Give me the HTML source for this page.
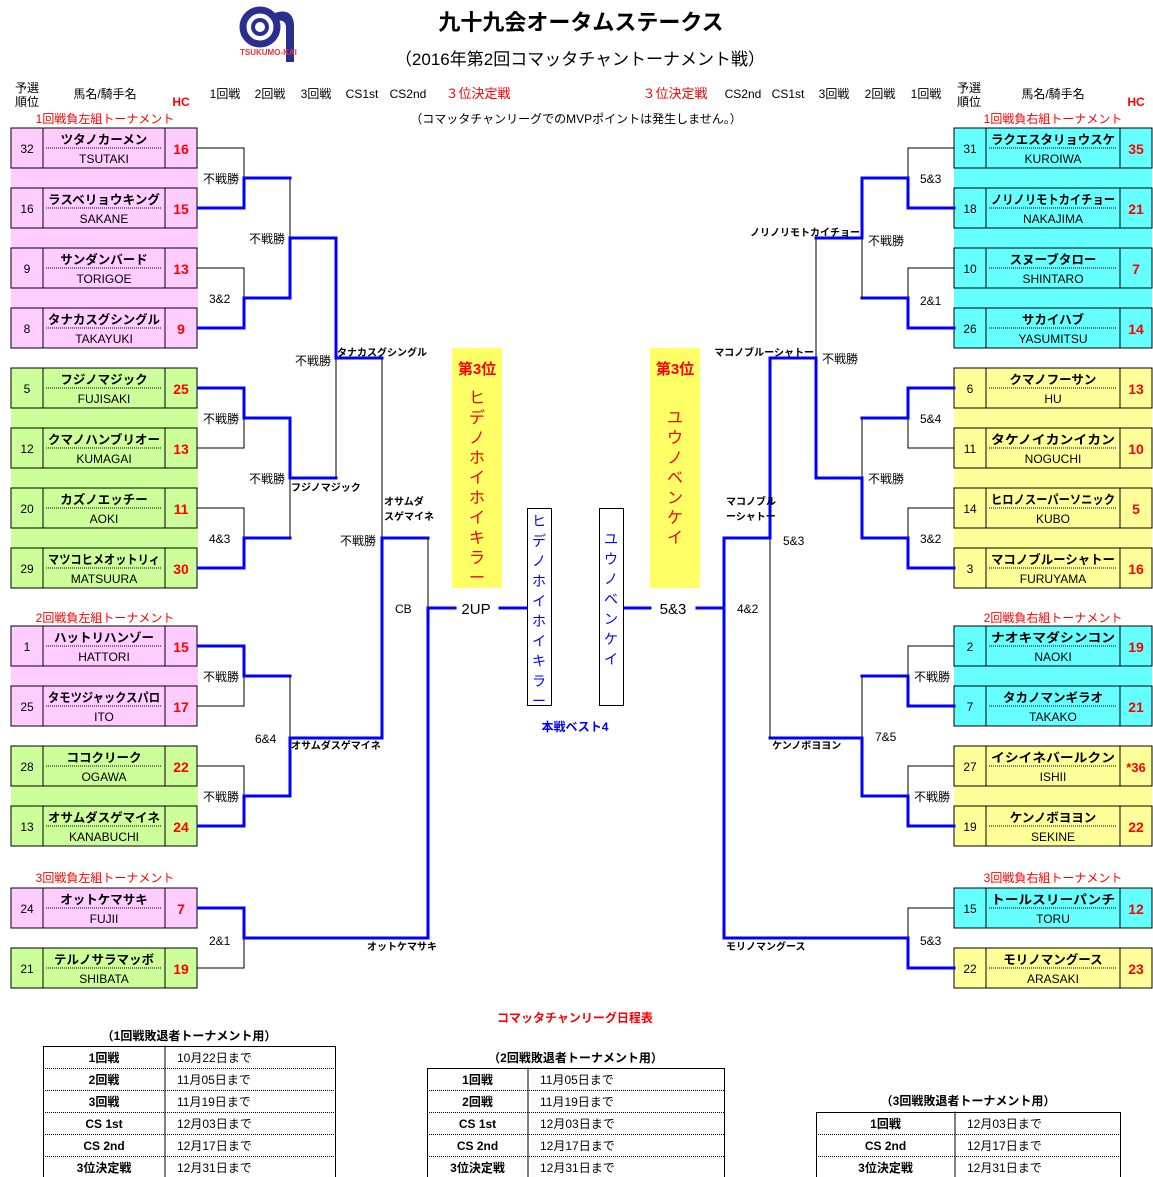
<!DOCTYPE html>
<html><head><meta charset="utf-8">
<style>
html,body{margin:0;padding:0;background:#fff;}
svg{display:block;font-family:"Liberation Sans","Noto Sans CJK JP",sans-serif;}
</style></head>
<body>
<svg id="s" width="1153" height="1177" xmlns="http://www.w3.org/2000/svg">
<rect width="1153" height="1177" fill="#fff"/>
<g>
<circle cx="260" cy="27" r="17" fill="none" stroke="#2a2f8f" stroke-width="7"/>
<circle cx="260" cy="27" r="7" fill="none" stroke="#2a2f8f" stroke-width="4"/>
<path d="M272 14 Q292 6 294 24 L294 62 L286 62 L286 26 Q284 18 276 22 Z" fill="#2a2f8f"/>
<text x="240" y="55" font-size="8" fill="#e33" font-weight="bold">TSUKUMO-KAI</text>
</g>
<text x="581" y="30" font-size="22" font-weight="bold" text-anchor="middle">九十九会オータムステークス</text>
<text x="580" y="65" font-size="17" text-anchor="middle">（2016年第2回コマッタチャントーナメント戦）</text>
<g id="g"></g>
</svg>
<script>
var g=document.getElementById('g');var NS='http://www.w3.org/2000/svg';
function el(t,a,txt){var e=document.createElementNS(NS,t);for(var k in a)e.setAttribute(k,a[k]);if(txt!==undefined)e.textContent=txt;g.appendChild(e);return e;}
function T(x,y,s,sz,o){o=o||{};var a={x:x,y:y,'font-size':sz||12,fill:o.c||'#000'};if(o.b)a['font-weight']='bold';if(o.a)a['text-anchor']=o.a;if(o.tl){a.textLength=o.tl;a.lengthAdjust='spacingAndGlyphs';}return el('text',a,s);}
function R(x,y,w,h,f,st){el('rect',{x:x,y:y,width:w,height:h,fill:f||'none',stroke:st||'none','stroke-width':1});}
function Ln(x1,y1,x2,y2,b){el('line',{x1:x1,y1:y1,x2:x2,y2:y2,stroke:b?'#0000ff':'#000','stroke-width':b?3:1,'stroke-linecap':'square'});}
var P='#ffccff',G='#ccff99',C='#66ffff',Y='#ffff99';
T(27,92,'予選',12,{a:'middle'});T(27,106,'順位',12,{a:'middle'});
T(105,98,'馬名/騎手名',12,{a:'middle'});T(181,106,'HC',12,{a:'middle',b:1,c:'#f00'});
[['1回戦',225],['2回戦',270],['3回戦',316],['CS1st',362],['CS2nd',408]].forEach(function(v){T(v[1],98,v[0],12,{a:'middle'});});
T(478,98,'３位決定戦',13,{a:'middle',c:'#f00'});T(675,98,'３位決定戦',13,{a:'middle',c:'#f00'});
[['CS2nd',743],['CS1st',788],['3回戦',834],['2回戦',880],['1回戦',926]].forEach(function(v){T(v[1],98,v[0],12,{a:'middle'});});
T(969,92,'予選',12,{a:'middle'});T(969,106,'順位',12,{a:'middle'});
T(1053,98,'馬名/騎手名',12,{a:'middle'});T(1136,106,'HC',12,{a:'middle',b:1,c:'#f00'});
T(576,123,'（コマッタチャンリーグでのMVPポイントは発生しません。）',12,{a:'middle'});
T(105,123,'1回戦負左組トーナメント',12,{a:'middle',c:'#f00'});
T(1053,123,'1回戦負右組トーナメント',12,{a:'middle',c:'#f00'});
T(105,622,'2回戦負左組トーナメント',12,{a:'middle',c:'#f00'});
T(1053,622,'2回戦負右組トーナメント',12,{a:'middle',c:'#f00'});
T(105,882,'3回戦負左組トーナメント',12,{a:'middle',c:'#f00'});
T(1053,882,'3回戦負右組トーナメント',12,{a:'middle',c:'#f00'});
function box(x0,wn,y,rk,nm,jk,hc,col){
 var w=32+wn+32;R(x0,y,w,40,col,'#000');
 Ln(x0+32,y,x0+32,y+40);Ln(x0+32+wn,y,x0+32+wn,y+40);
 el('line',{x1:x0+35,y1:y+20,x2:x0+29+wn,y2:y+20,stroke:'#000','stroke-width':1,'stroke-dasharray':'1,1'});
 T(x0+16,y+25,rk,12,{a:'middle'});
 var o={a:'middle',b:1};if(nm.length>8)o.tl=wn-10;
 T(x0+32+wn/2,y+16,nm,12.5,o);
 T(x0+32+wn/2,y+35,jk,12,{a:'middle'});T(x0+48+wn,y+26,hc,hc.length>2?13:14,{a:'middle',b:1,c:'#f00'});
}
function gap(x0,w,y,col){R(x0,y,w,20,col);}
var L=[[128,'32','ツタノカーメン','TSUTAKI','16',P],[188,'16','ラスベリョウキング','SAKANE','15',P],[248,'9','サンダンバード','TORIGOE','13',P],[308,'8','タナカスグシングル','TAKAYUKI','9',P],
[368,'5','フジノマジック','FUJISAKI','25',G],[428,'12','クマノハンブリオー','KUMAGAI','13',G],[488,'20','カズノエッチー','AOKI','11',G],[548,'29','マツコヒメオットリィ','MATSUURA','30',G],
[626,'1','ハットリハンゾー','HATTORI','15',P],[686,'25','タモツジャックスパロ','ITO','17',P],[746,'28','ココクリーク','OGAWA','22',G],[806,'13','オサムダスゲマイネ','KANABUCHI','24',G],
[888,'24','オットケマサキ','FUJII','7',P],[948,'21','テルノサラマッボ','SHIBATA','19',G]];
[[168,P],[228,P],[288,P],[408,G],[468,G],[528,G],[666,P],[786,G]].forEach(function(v){gap(11,187,v[0],v[1]);});
L.forEach(function(v){box(11,122,v[0],v[1],v[2],v[3],v[4],v[5]);});
var Rt=[[128,'31','ラクエスタリョウスケ','KUROIWA','35',C],[188,'18','ノリノリモトカイチョー','NAKAJIMA','21',C],[248,'10','スヌーブタロー','SHINTARO','7',C],[308,'26','サカイハブ','YASUMITSU','14',C],
[368,'6','クマノフーサン','HU','13',Y],[428,'11','タケノイカンイカン','NOGUCHI','10',Y],[488,'14','ヒロノスーパーソニック','KUBO','5',Y],[548,'3','マコノブルーシャトー','FURUYAMA','16',Y],
[626,'2','ナオキマダシンコン','NAOKI','19',C],[686,'7','タカノマンギラオ','TAKAKO','21',C],[746,'27','イシイネバールクン','ISHII','*36',Y],[806,'19','ケンノボヨヨン','SEKINE','22',Y],
[888,'15','トールスリーパンチ','TORU','12',C],[948,'22','モリノマングース','ARASAKI','23',Y]];
[[168,C],[228,C],[288,C],[408,Y],[468,Y],[528,Y],[666,C],[786,Y]].forEach(function(v){gap(954,198,v[0],v[1]);});
Rt.forEach(function(v){box(954,134,v[0],v[1],v[2],v[3],v[4],v[5]);});
function pr(xin,xv,ya,yb,w,xo,ym){ym=ym||(ya+yb)/2;
 if(xin!==null){Ln(xin,ya,xv,ya,w=='t'||w=='both');Ln(xin,yb,xv,yb,w=='b'||w=='both');}
 if(w=='t'){Ln(xv,ya,xv,ym,1);Ln(xv,ym,xv,yb,0);}else if(w=='b'){Ln(xv,ya,xv,ym,0);Ln(xv,ym,xv,yb,1);}else Ln(xv,ya,xv,yb,1);
 Ln(xv,ym,xo,ym,1);}
pr(198,244,148,208,'b',290);pr(198,244,268,328,'b',290);pr(198,244,388,448,'t',290);pr(198,244,508,568,'b',290);
pr(198,244,646,706,'t',290);pr(198,244,766,826,'b',290);pr(198,244,908,968,'t',428);
pr(null,290,178,298,'b',336);pr(null,290,418,538,'t',336);pr(null,290,676,796,'b',382,738);
pr(null,336,238,478,'t',382);pr(null,382,358,738,'b',428,538);pr(null,428,538,938,'b',455,608);
pr(954,908,148,208,'b',862);pr(954,908,268,328,'b',862);pr(954,908,388,448,'t',862);pr(954,908,508,568,'b',862);
pr(954,908,646,706,'b',862);pr(954,908,766,826,'b',862);pr(954,908,908,968,'b',724);
pr(null,862,178,298,'t',816);pr(null,862,418,538,'b',816);pr(null,862,676,796,'b',770,738);
pr(null,816,238,478,'b',770);pr(null,770,358,738,'t',724,538);pr(null,724,538,938,'both',697,608);
Ln(500,608,527,608,1);Ln(624,608,650,608,1);
function s(x,y,t,a){T(x,y,t,12,{a:a||'start'});}
[[203,183,'不戦勝'],[249,243,'不戦勝'],[209,303,'3&2'],[295,365,'不戦勝'],[203,423,'不戦勝'],[249,483,'不戦勝'],[209,543,'4&3'],[340,545,'不戦勝'],[395,613,'CB'],[203,681,'不戦勝'],[255,743,'6&4'],[203,801,'不戦勝'],[209,945,'2&1'],
[920,183,'5&3'],[868,245,'不戦勝'],[920,305,'2&1'],[822,363,'不戦勝'],[920,423,'5&4'],[868,483,'不戦勝'],[920,543,'3&2'],[783,545,'5&3'],[737,613,'4&2'],[914,681,'不戦勝'],[875,741,'7&5'],[914,801,'不戦勝'],[920,945,'5&3']].forEach(function(v){s(v[0],v[1],v[2]);});
function bl(x,y,t,a){T(x,y,t,10,{b:1,a:a||'start'});}
bl(337,356,'タナカスグシングル');bl(291,491,'フジノマジック');bl(384,505,'オサムダ');bl(384,520,'スゲマイネ');bl(291,749,'オサムダスゲマイネ');bl(367,950,'オットケマサキ');
bl(860,236,'ノリノリモトカイチョー','end');bl(814,356,'マコノブルーシャトー','end');bl(726,505,'マコノブル');bl(726,520,'ーシャトー');bl(772,749,'ケンノボヨヨン');bl(726,950,'モリノマングース');
R(452,348,50,240,'#ffff66');R(650,348,50,240,'#ffff66');
T(477,374,'第3位',15,{a:'middle',b:1,c:'#f00'});T(675,374,'第3位',15,{a:'middle',b:1,c:'#f00'});
'ヒデノホイホイキラー'.split('').forEach(function(c,i){T(477,403+i*20,c,16,{a:'middle',c:'#f00'});});
'ユウノベンケイ'.split('').forEach(function(c,i){T(675,423+i*20,c,16,{a:'middle',c:'#f00'});});
R(527.5,508.5,24,197,'#fff','#000');R(599.5,508.5,24,197,'#fff','#000');
'ヒデノホイホイキラー'.split('').forEach(function(c,i){T(539,526+i*20,c,14,{a:'middle',c:'#00f'});});
'ユウノベンケイ'.split('').forEach(function(c,i){T(611,544+i*20,c,14,{a:'middle',c:'#00f'});});
T(476,614,'2UP',15,{a:'middle'});T(673,614,'5&3',15,{a:'middle'});
T(575,731,'本戦ベスト4',12,{a:'middle',b:1,c:'#00f'});
T(575,1022,'コマッタチャンリーグ日程表',12,{a:'middle',b:1,c:'#f00'});
function tbl(x,y,w,sp,rows,title,ty){T(x+w/2,ty,title,12,{a:'middle',b:1});
 var h=rows.length*22;R(x+.5,y+.5,w,h-1,'#fff','#000');Ln(sp,y,sp,y+h);
 rows.forEach(function(r,i){var yy=y+i*22;if(i>0)el('line',{x1:x,y1:yy+.5,x2:x+w,y2:yy+.5,stroke:'#000','stroke-dasharray':'1,1'});
  T((x+sp)/2,yy+16,r[0],12,{a:'middle',b:1});T(sp+12,yy+16,r[1],12);});}
tbl(43,1046,292,165,[['1回戦','10月22日まで'],['2回戦','11月05日まで'],['3回戦','11月19日まで'],['CS 1st','12月03日まで'],['CS 2nd','12月17日まで'],['3位決定戦','12月31日まで']],'（1回戦敗退者トーナメント用）',1040);
tbl(427,1068,297,528,[['1回戦','11月05日まで'],['2回戦','11月19日まで'],['CS 1st','12月03日まで'],['CS 2nd','12月17日まで'],['3位決定戦','12月31日まで']],'（2回戦敗退者トーナメント用）',1062);
tbl(816,1112,304,955,[['1回戦','12月03日まで'],['CS 2nd','12月17日まで'],['3位決定戦','12月31日まで']],'（3回戦敗退者トーナメント用）',1105);
</script>
</body></html>
